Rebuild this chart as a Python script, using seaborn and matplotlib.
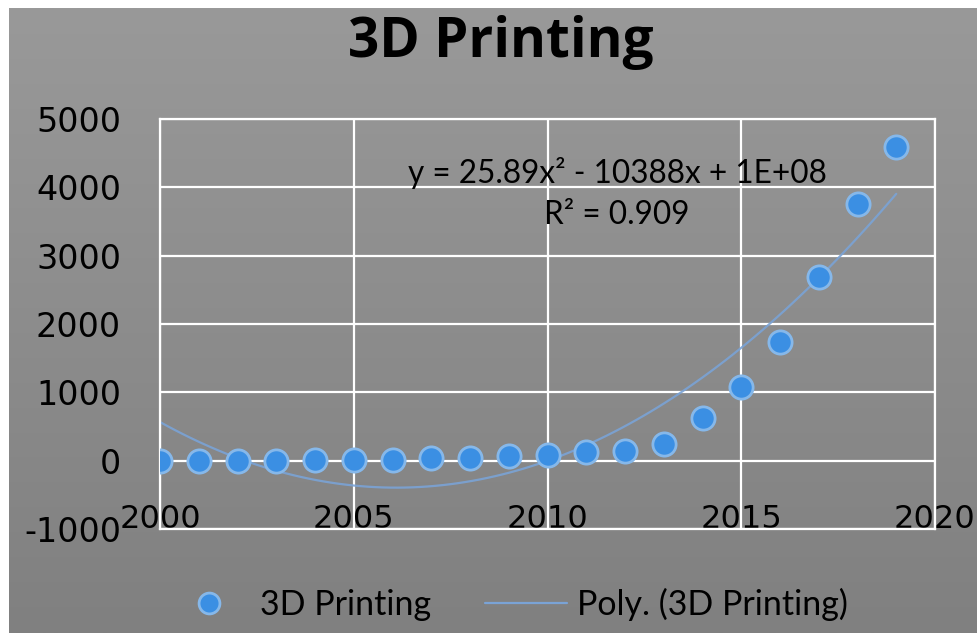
import matplotlib
matplotlib.use("Agg")
import matplotlib.pyplot as plt
from matplotlib.lines import Line2D
import numpy as np
import seaborn as sns

# values
years = [2000, 2001, 2002, 2003, 2004, 2005, 2006, 2007, 2008, 2009,
         2010, 2011, 2012, 2013, 2014, 2015, 2016, 2017, 2018, 2019]
printing = [0, 0, 0, 0, 5, 10, 15, 40, 45, 70,
            90, 120, 135, 250, 630, 1080, 1730, 2690, 3760, 4590]
x_ticks = [2000, 2005, 2010, 2015, 2020]
y_ticks = [-1000, 0, 1000, 2000, 3000, 4000, 5000]
equation = "y = 25.89x\u00b2 - 10388x + 1E+08"
r_squared = "R\u00b2 = 0.909"

sns.set_style("white")
plt.rcParams['font.family'] = ['DejaVu Sans']
plt.rcParams['axes.unicode_minus'] = False
plt.rcParams['text.color'] = 'black'
plt.rcParams['xtick.color'] = 'black'
plt.rcParams['ytick.color'] = 'black'

fig = plt.figure(figsize=(9.77, 6.33), dpi=100)
fig.patch.set_facecolor("white")

# gray gradient backdrop, leaving the thin white strips at left and top
bg = fig.add_axes([9 / 977, 0, 1 - 9 / 977, 1 - 8 / 633], zorder=0)
grad = np.linspace(0, 1, 256).reshape(-1, 1)
bg.imshow(grad, aspect="auto", cmap=matplotlib.colors.LinearSegmentedColormap.from_list(
    "g", ["#999999", "#808080"]), extent=[0, 1, 0, 1])
bg.axis("off")

ax = fig.add_axes([160 / 977, 104 / 633, 775 / 977, 410 / 633], zorder=1)
ax.patch.set_alpha(0)

sns.regplot(x=years, y=printing, order=2, ci=None, scatter=False, ax=ax,
            line_kws=dict(color="#7aa3d6", lw=1.6, alpha=0.9, zorder=2))
sns.scatterplot(x=years, y=printing, ax=ax, s=280, color="#3b8fe3",
                edgecolor="#86b8ea", linewidth=2, zorder=3)

ax.set_xlim(2000, 2020)
ax.set_ylim(-1000, 5000)
ax.set_xticks(x_ticks)
ax.set_yticks(y_ticks)
ax.grid(True, color="white", lw=1.6, zorder=1)
ax.set_axisbelow(True)
for s in ax.spines.values():
    s.set_color("white")
    s.set_linewidth(1.6)
ax.tick_params(axis="x", length=0, pad=4, labelsize=23)
ax.tick_params(axis="y", length=0, pad=28, labelsize=24)
for lab in ax.get_xticklabels():
    lab.set_verticalalignment("bottom")
    lab.set_fontfamily("DejaVu Sans")
for lab in ax.get_yticklabels():
    lab.set_fontfamily("DejaVu Sans")

eq_font = ['Lato', 'DejaVu Sans']
ax.text(2011.8, 4210, equation, ha="center", va="center", fontsize=22.7, family=eq_font)
ax.text(2011.8, 3600, r_squared, ha="center", va="center", fontsize=22.7, family=eq_font)

fig.text(0.513, 0.933, "3D Printing", ha="center", va="center", fontsize=39.5,
         fontweight="bold", family=['Open Sans', 'DejaVu Sans'])

handles = [
    Line2D([], [], marker="o", ls="none", markersize=15, markerfacecolor="#3b8fe3",
           markeredgecolor="#86b8ea", markeredgewidth=2),
    Line2D([], [], color="#7aa3d6", lw=1.6),
]
fig.legend(handles, ["3D Printing", "Poly. (3D Printing)"], loc="center",
           bbox_to_anchor=(0.52, 0.045), ncol=2, frameon=False,
           prop={"family": eq_font, "size": 24.5}, handlelength=2.4,
           columnspacing=1.6, handletextpad=0.3)

plt.savefig("out.png", dpi=100)
